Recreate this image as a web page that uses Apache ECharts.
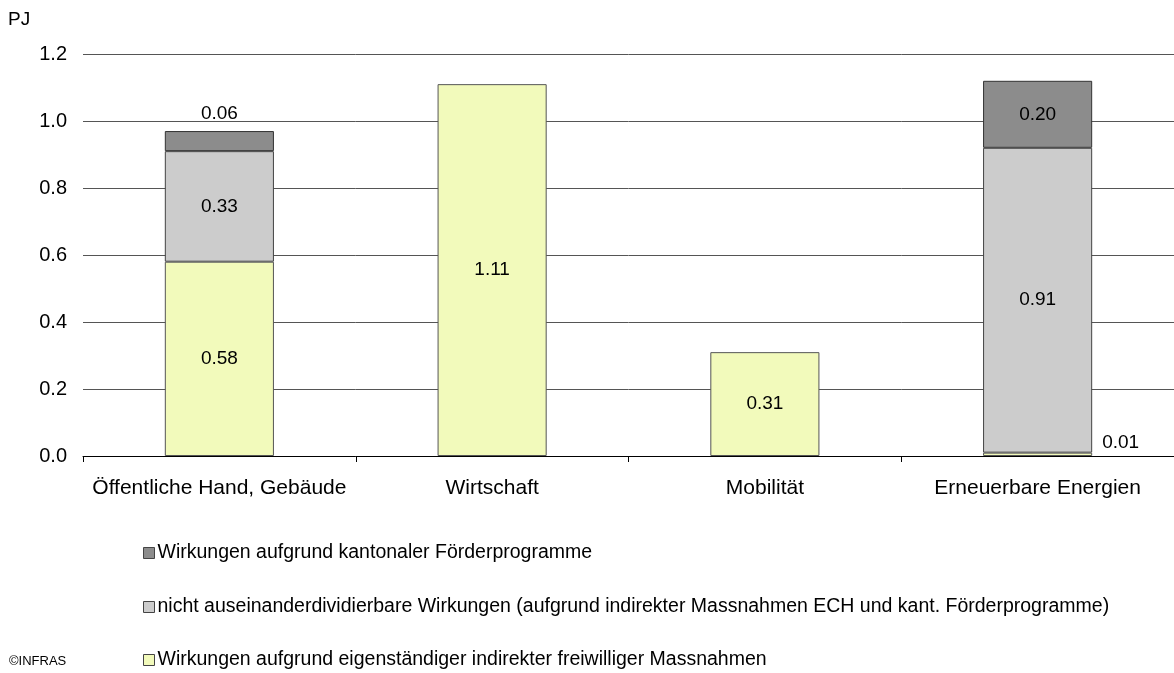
<!DOCTYPE html>
<html>
<head>
<meta charset="utf-8">
<script src="https://cdn.jsdelivr.net/npm/echarts@6/dist/echarts.min.js"></script>
<style>
  html, body { margin: 0; padding: 0; background: #fff; }
  #chart { width: 1174px; height: 673px; }
</style>
</head>
<body>
<div id="chart"></div>
<script>
const categories = ["Öffentliche Hand, Gebäude", "Wirtschaft", "Mobilität", "Erneuerbare Energien"]
const seriesNames = [
  "Wirkungen aufgrund kantonaler Förderprogramme",
  "nicht auseinanderdividierbare Wirkungen (aufgrund indirekter Massnahmen ECH und kant. Förderprogramme)",
  "Wirkungen aufgrund eigenständiger indirekter freiwilliger Massnahmen"
]
const eigen = [0.58, 1.11, 0.31, 0.01]
const nichtTrennbar = [0.33, null, null, 0.91]
const kantonal = [0.06, null, null, 0.20]
const yTicks = [0, 0.2, 0.4, 0.6, 0.8, 1.0, 1.2]

const font = "Liberation Sans, Arial, sans-serif"
const colors = ["#8c8c8c", "#cccccc", "#f2fabb"]

const labelBase = {
  show: true,
  position: "inside",
  color: "#000",
  fontSize: 19,
  fontFamily: font,
  formatter: p => p.value.toFixed(2)
}

// small values get their label outside the bar
const toData = (values, outside) => values.map((v, i) => {
  if (v == null) return null
  const item = { value: v }
  if (outside && outside[i]) item.label = outside[i]
  return item
})

// one legend per row so they stack like the original
const legendTops = [538, 592, 645]
const legends = seriesNames.map((name, i) => ({
  left: 138,
  top: legendTops[i],
  itemWidth: 11,
  itemHeight: 11,
  itemGap: 4,
  selectedMode: false,
  icon: "rect",
  data: [name],
  itemStyle: { borderColor: "#444", borderWidth: 1 },
  textStyle: { fontSize: 19.5, fontFamily: font, color: "#000", padding: [0, 0, 0, -2] }
}))

const chart = echarts.init(document.getElementById("chart"))

chart.setOption({
  animation: false,
  grid: { left: 83, right: 0, top: 54, bottom: 217, containLabel: false },
  legend: legends,
  graphic: [
    { type: "text", left: 8, top: 10, style: { text: "PJ", fontSize: 19, fontFamily: font, fill: "#000" } },
    { type: "text", left: 9, top: 655, style: { text: "©INFRAS", fontSize: 13, fontFamily: font, fill: "#000" } }
  ],
  xAxis: {
    type: "category",
    data: categories,
    axisLine: { lineStyle: { color: "#000", width: 1 } },
    axisTick: { show: true, interval: 0, length: 6, lineStyle: { color: "#000" } },
    axisLabel: { interval: 0, color: "#000", fontSize: 21, fontFamily: font, margin: 22 }
  },
  yAxis: {
    type: "value",
    min: yTicks[0],
    max: yTicks[yTicks.length - 1],
    interval: 0.2,
    axisLine: { show: false },
    axisTick: { show: false },
    axisLabel: { color: "#000", fontSize: 20, fontFamily: font, margin: 16, formatter: v => v.toFixed(1) },
    splitLine: { lineStyle: { color: "#555", width: 1 } }
  },
  series: [
    {
      name: seriesNames[2],
      type: "bar",
      stack: "total",
      barWidth: "40%",
      itemStyle: { color: colors[2], borderColor: "#555", borderWidth: 1 },
      label: labelBase,
      data: toData(eigen, [null, null, null, { position: "right", distance: 10, offset: [0, -12] }])
    },
    {
      name: seriesNames[1],
      type: "bar",
      stack: "total",
      itemStyle: { color: colors[1], borderColor: "#444", borderWidth: 1 },
      label: labelBase,
      data: toData(nichtTrennbar)
    },
    {
      name: seriesNames[0],
      type: "bar",
      stack: "total",
      itemStyle: { color: colors[0], borderColor: "#333", borderWidth: 1 },
      label: labelBase,
      data: toData(kantonal, [{ position: "top", distance: 8 }, null, null, null])
    }
  ]
})
</script>
</body>
</html>
